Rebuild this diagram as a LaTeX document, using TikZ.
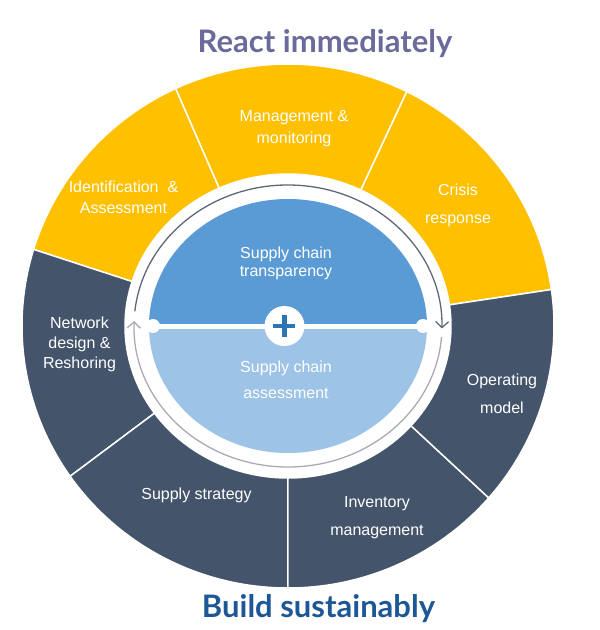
\documentclass[tikz,border=0pt]{standalone}
\usepackage{fontspec}
\setmainfont{Liberation Sans}
\newfontfamily\titlefont{Lato}
\usetikzlibrary{arrows.meta}
\definecolor{gold}{HTML}{FFC000}
\definecolor{slate}{HTML}{44546A}
\definecolor{topblue}{HTML}{5B9BD5}
\definecolor{lowblue}{HTML}{9DC3E6}
\definecolor{plusblue}{HTML}{2E75B6}
\definecolor{darkarc}{HTML}{5F6775}
\definecolor{lightarc}{HTML}{A7ABB3}
\definecolor{reactcol}{HTML}{6B6A9C}
\definecolor{buildcol}{HTML}{1D5796}
\tikzset{
  seglabel/.style={text=white, align=center, font=\fontsize{16}{#1}\selectfont},
  seglabel/.default=22,
  headline/.style={font=\titlefont\bfseries\fontsize{31}{31}\selectfont, anchor=base},
  cycletip/.style={line width=1.3pt, -{Straight Barb[length=6pt,width=13pt]}}
}

\begin{document}
\begin{tikzpicture}[x=1pt,y=1pt]
\useasboundingbox (-288,-304) rectangle (312,326);

\foreach \a/\b/\c in {8/63.5/gold, 63.5/115/gold, 115/163/gold, 163/215/slate, 215/270/slate, 270/319/slate, 319/368/slate} {
\filldraw[fill=\c, draw=white, line width=1.5pt] (\a:266 and 262) arc[start angle=\a, end angle=\b, x radius=266, y radius=262]
  -- (\b:163 and 152) arc[start angle=\b, end angle=\a, x radius=163, y radius=152] -- cycle;
}

\draw[darkarc, cycletip] (174:154 and 141) arc[start angle=174, end angle=-1, x radius=154, y radius=141];
\draw[lightarc, cycletip] (-4.5:154 and 141) arc[start angle=-4.5, end angle=-182, x radius=154, y radius=141];

\fill[topblue] (-139,0) arc[start angle=180, end angle=0, x radius=139, y radius=127] -- cycle;
\fill[lowblue] (-139,0) arc[start angle=180, end angle=360, x radius=139, y radius=127] -- cycle;
\draw[white, line width=5pt] (-139,0) -- (139,0);
\fill[white] (-135,0) circle[radius=7] (135,0) circle[radius=7];
\node[circle, fill=white, minimum size=40pt, inner sep=0pt] (plus) at (-3.5,0) {};
\draw[plusblue, line width=4.5pt] ([xshift=-11pt]plus.center) -- ([xshift=11pt]plus.center)
  ([yshift=-11pt]plus.center) -- ([yshift=11pt]plus.center);

\node[seglabel=21] (ident) at (-164.5,128.5) {Identification\ \ \&\\Assessment};
\node[seglabel=22] (manage) at (6,197.5) {Management \&\\monitoring};
\node[seglabel=28] (crisis) at (170,121) {Crisis\\response};
\node[seglabel=20] (network) at (-208.5,-18.5) {Network\\design \&\\Reshoring};
\node[seglabel=28] (operate) at (214,-67.5) {Operating\\model};
\node[seglabel=27.5] (inventory) at (89,-191.5) {Inventory\\management};
\node[seglabel] (strategy) at (-91.5,-169.5) {Supply strategy};
\node[seglabel=17.5] (transp) at (-2,62.7) {Supply chain\\transparency};
\node[seglabel=26] (assess) at (-2,-54) {Supply chain\\assessment};

\node[headline, text=reactcol] (react) at (37,273) {React immediately};
\node[headline, text=buildcol] (build) at (30.5,-291) {Build sustainably};
\end{tikzpicture}
\end{document}
